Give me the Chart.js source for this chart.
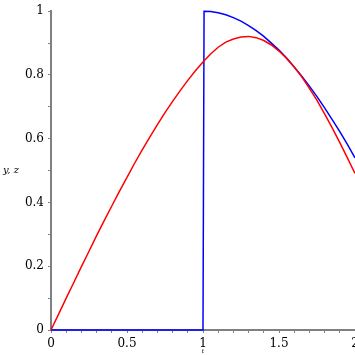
<!DOCTYPE html>
<html><head><meta charset="utf-8">
<script src="https://cdn.jsdelivr.net/npm/chart.js@4/dist/chart.umd.min.js"></script>
<style>html,body{margin:0;padding:0;overflow:hidden;background:#fff;width:355px;height:355px}canvas{display:block}</style>
</head><body>
<canvas id="c" width="365" height="355"></canvas>
<script>
const tRed = [0,0.05,0.1,0.15,0.2,0.25,0.3,0.35,0.4,0.45,0.5,0.55,0.6,0.65,0.7,0.75,0.8,0.85,0.9,0.95,1.0,1.05,1.1,1.15,1.2,1.25,1.3,1.35,1.4,1.45,1.5,1.55,1.6,1.65,1.7,1.75,1.8,1.85,1.9,1.95,2.0];
const zRed = [0,0.050,0.100,0.149,0.199,0.247,0.296,0.343,0.389,0.435,0.479,0.523,0.565,0.605,0.644,0.682,0.717,0.751,0.783,0.813,0.841,0.866,0.887,0.903,0.913,0.919,0.921,0.917,0.908,0.894,0.875,0.852,0.825,0.794,0.758,0.720,0.678,0.634,0.588,0.540,0.491];
const tBlue = [0,1.0,1.007,1.05,1.1,1.15,1.2,1.25,1.3,1.35,1.4,1.45,1.5,1.55,1.6,1.65,1.7,1.75,1.8,1.85,1.9,1.95,2.0];
const yBlue = [0,0,1.0,0.999,0.995,0.989,0.980,0.969,0.955,0.939,0.921,0.900,0.878,0.853,0.825,0.796,0.765,0.732,0.697,0.660,0.622,0.582,0.540];
const xTickLabels = [0,0.5,1,1.5,2];
const yTickLabels = [0,0.2,0.4,0.6,0.8,1];
const xTitle = 't';
const yTitle = 'y, z';

const gray = '#808080';
const tickFont = {family:'DejaVu Serif', size:12};

const titlesPlugin = {
  id:'titles',
  afterDraw(chart){
    const ctx = chart.ctx, xs = chart.scales.x, ys = chart.scales.y;
    ctx.save();
    ctx.fillStyle = '#000';
    ctx.font = 'italic 10px "DejaVu Serif"';
    ctx.textAlign = 'left'; ctx.textBaseline = 'middle';
    ctx.fillText(yTitle, 3, ys.getPixelForValue(0.5));
    ctx.font = 'italic 6px "DejaVu Serif"';
    ctx.textAlign = 'center'; ctx.textBaseline = 'middle';
    ctx.fillText(xTitle, xs.getPixelForValue(1), 351);
    ctx.restore();
  }
};

new Chart(document.getElementById('c'), {
  type:'line',
  data:{
    datasets:[
      {data:tRed.map((t,i)=>({x:t,y:zRed[i]})), borderColor:'#ff0000', borderWidth:1.5, pointRadius:0, tension:0, clip:6},
      {data:tBlue.map((t,i)=>({x:t,y:yBlue[i]})), borderColor:'#0000ff', borderWidth:1.5, pointRadius:0, tension:0, clip:6}
    ]
  },
  options:{
    responsive:false, animation:false, devicePixelRatio:1,
    layout:{padding:{top:9,right:10,left:0,bottom:0}},
    plugins:{legend:{display:false}, tooltip:{enabled:false}},
    scales:{
      x:{type:'linear', min:0, max:2,
        ticks:{stepSize:0.1, autoSkip:false, maxRotation:0, padding:4, color:'#000', font:tickFont,
          callback:(v)=>{const r=Math.round(v*10)/10; return xTickLabels.some(l=>Math.abs(l-r)<1e-9)?String(r):'';}},
        grid:{drawOnChartArea:false, drawTicks:true, tickLength:3, color:gray, tickWidth:1},
        border:{display:true, color:gray, width:2},
        afterFit:(s)=>{s.height=25;}
      },
      y:{type:'linear', min:0, max:1,
        ticks:{stepSize:0.1, autoSkip:false, padding:4, color:'#000', font:tickFont,
          callback:(v)=>{const r=Math.round(v*10)/10; return yTickLabels.some(l=>Math.abs(l-r)<1e-9)?String(r):'';}},
        grid:{drawOnChartArea:false, drawTicks:true, tickLength:3, color:gray, tickWidth:1},
        border:{display:true, color:gray, width:2},
        afterFit:(s)=>{s.width=51;}
      }
    }
  },
  plugins:[titlesPlugin]
});
</script>
</body></html>
